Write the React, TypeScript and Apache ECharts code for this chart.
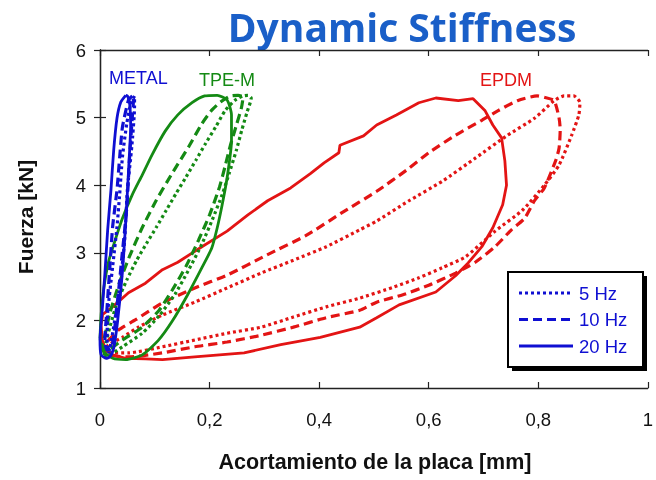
import React, { useEffect, useRef } from 'react';
import * as echarts from 'echarts';

// ---------- data (x = Acortamiento [mm], y = Fuerza [kN]) ----------
const MATERIALS = ['METAL', 'TPE-M', 'EPDM'];
const FREQUENCIES = ['5 Hz', '10 Hz', '20 Hz'];
const X_TICK_LABELS = ['0', '0,2', '0,4', '0,6', '0,8', '1'];
const Y_TICK_LABELS = ['1', '2', '3', '4', '5', '6'];

const EPDM_20HZ: [number, number][] = [
  [0.002, 1.93], [0.004, 1.71], [0.011, 1.56], [0.023, 1.49], [0.047, 1.44], [0.083, 1.43],
  [0.114, 1.42], [0.173, 1.46], [0.263, 1.52], [0.33, 1.64], [0.402, 1.75], [0.474, 1.9],
  [0.505, 2.04], [0.546, 2.23], [0.613, 2.42], [0.649, 2.66], [0.672, 2.85], [0.697, 3.09],
  [0.717, 3.37], [0.735, 3.71], [0.742, 4.0], [0.739, 4.36], [0.733, 4.7], [0.717, 4.89],
  [0.703, 5.1], [0.681, 5.28], [0.654, 5.25], [0.613, 5.29], [0.582, 5.22], [0.541, 5.04],
  [0.505, 4.89], [0.481, 4.73], [0.438, 4.59], [0.436, 4.48], [0.409, 4.33], [0.384, 4.17],
  [0.348, 3.96], [0.306, 3.77], [0.27, 3.56], [0.232, 3.32], [0.186, 3.09], [0.142, 2.86],
  [0.114, 2.75], [0.083, 2.55], [0.052, 2.41], [0.023, 2.2], [0.005, 2.09], [0.002, 1.93],
];
const EPDM_10HZ: [number, number][] = [
  [0.005, 1.64], [0.018, 1.49], [0.052, 1.46], [0.114, 1.52], [0.173, 1.61], [0.232, 1.68],
  [0.294, 1.78], [0.353, 1.9], [0.413, 2.04], [0.474, 2.15], [0.505, 2.27], [0.553, 2.38],
  [0.6, 2.52], [0.649, 2.7], [0.685, 2.86], [0.721, 3.09], [0.751, 3.34], [0.775, 3.51],
  [0.793, 3.77], [0.811, 3.96], [0.832, 4.37], [0.838, 4.55], [0.84, 4.82], [0.838, 4.99],
  [0.829, 5.25], [0.811, 5.3], [0.798, 5.32], [0.762, 5.25], [0.726, 5.1], [0.697, 4.96],
  [0.649, 4.74], [0.6, 4.48], [0.559, 4.22], [0.505, 3.91], [0.441, 3.59], [0.377, 3.26],
  [0.305, 2.97], [0.232, 2.67], [0.173, 2.48], [0.114, 2.26], [0.065, 2.01], [0.034, 1.86],
  [0.016, 1.71], [0.005, 1.64],
];
const EPDM_5HZ: [number, number][] = [
  [0.007, 1.56], [0.016, 1.52], [0.052, 1.52], [0.114, 1.61], [0.173, 1.71], [0.232, 1.81],
  [0.294, 1.9], [0.353, 2.05], [0.413, 2.2], [0.474, 2.33], [0.535, 2.49], [0.582, 2.63],
  [0.625, 2.78], [0.667, 2.94], [0.703, 3.19], [0.721, 3.32], [0.771, 3.63], [0.811, 4.0],
  [0.838, 4.3], [0.861, 4.74], [0.874, 5.04], [0.876, 5.22], [0.865, 5.32], [0.847, 5.32],
  [0.829, 5.25], [0.793, 4.99], [0.744, 4.74], [0.685, 4.4], [0.625, 4.06], [0.564, 3.77],
  [0.505, 3.47], [0.474, 3.34], [0.413, 3.09], [0.353, 2.89], [0.294, 2.7], [0.232, 2.48],
  [0.173, 2.27], [0.114, 2.08], [0.07, 1.9], [0.041, 1.75], [0.016, 1.64], [0.007, 1.56],
];
const TPE_20HZ: [number, number][] = [
  [0.0, 1.74], [0.005, 1.55], [0.023, 1.44], [0.047, 1.42], [0.077, 1.49], [0.106, 1.7],
  [0.132, 1.99], [0.16, 2.38], [0.186, 2.78], [0.204, 3.07], [0.214, 3.37], [0.223, 3.71],
  [0.232, 4.11], [0.24, 4.65], [0.24, 5.04], [0.232, 5.26], [0.214, 5.33], [0.191, 5.32],
  [0.168, 5.22], [0.142, 5.04], [0.119, 4.8], [0.095, 4.45], [0.077, 4.15], [0.059, 3.86],
  [0.041, 3.51], [0.029, 3.22], [0.016, 2.88], [0.007, 2.48], [0.002, 2.08], [0.0, 1.74],
];
const TPE_10HZ: [number, number][] = [
  [0.004, 1.64], [0.005, 1.56], [0.018, 1.58], [0.041, 1.71], [0.077, 1.9], [0.108, 2.15],
  [0.132, 2.45], [0.157, 2.8], [0.18, 3.19], [0.2, 3.56], [0.218, 3.97], [0.229, 4.3],
  [0.238, 4.59], [0.249, 4.89], [0.258, 5.14], [0.261, 5.3], [0.252, 5.33], [0.238, 5.32],
  [0.22, 5.23], [0.204, 5.11], [0.186, 4.91], [0.162, 4.57], [0.132, 4.18], [0.103, 3.78],
  [0.077, 3.37], [0.054, 2.95], [0.036, 2.57], [0.018, 2.11], [0.009, 1.78], [0.004, 1.64],
];
const TPE_5HZ: [number, number][] = [
  [0.007, 1.46], [0.018, 1.49], [0.041, 1.61], [0.077, 1.81], [0.108, 2.07], [0.137, 2.39],
  [0.162, 2.75], [0.186, 3.13], [0.205, 3.49], [0.223, 3.86], [0.236, 4.18], [0.249, 4.52],
  [0.259, 4.82], [0.268, 5.07], [0.276, 5.29], [0.27, 5.33], [0.261, 5.32], [0.247, 5.26],
  [0.229, 5.11], [0.211, 4.86], [0.193, 4.62], [0.175, 4.37], [0.157, 4.12], [0.139, 3.88],
  [0.121, 3.63], [0.103, 3.38], [0.085, 3.14], [0.067, 2.89], [0.049, 2.6], [0.031, 2.26],
  [0.018, 1.9], [0.009, 1.61], [0.007, 1.46],
];
const METAL_20HZ: [number, number][] = [
  [0.047, 5.33], [0.038, 5.23], [0.031, 4.99], [0.025, 4.52], [0.02, 3.93], [0.014, 3.34],
  [0.009, 2.7], [0.004, 2.15], [0.0, 1.71], [0.002, 1.49], [0.011, 1.44], [0.018, 1.46],
  [0.025, 1.59], [0.032, 1.98], [0.041, 2.72], [0.047, 3.46], [0.052, 4.2], [0.056, 4.89],
  [0.054, 5.22], [0.05, 5.32], [0.047, 5.33],
];
const METAL_10HZ: [number, number][] = [
  [0.059, 5.32], [0.052, 5.26], [0.041, 4.86], [0.036, 4.42], [0.031, 3.93], [0.023, 3.38],
  [0.018, 2.79], [0.013, 2.2], [0.009, 1.71], [0.013, 1.56], [0.022, 1.61], [0.031, 2.2],
  [0.04, 2.94], [0.049, 3.68], [0.054, 4.42], [0.059, 5.01], [0.061, 5.26], [0.059, 5.32],
];
const METAL_5HZ: [number, number][] = [
  [0.063, 5.32], [0.056, 5.2], [0.049, 4.92], [0.041, 4.42], [0.036, 3.88], [0.031, 3.38],
  [0.023, 2.79], [0.014, 2.11], [0.013, 1.71], [0.016, 1.53], [0.023, 1.81], [0.036, 2.49],
  [0.045, 3.19], [0.05, 3.93], [0.058, 4.57], [0.063, 5.16], [0.063, 5.32],
];

// ---------- styles ----------
const BLUE = '#0f0fd2';
const GREEN = '#148a14';
const RED = '#e31414';
const TITLE_BLUE = '#1a5fc8';
const DOT = [3, 3];
const DASH = [9, 5];
const SANS = "'Liberation Sans', Arial, sans-serif";

const LOOPS = [
  { name: 'EPDM 5 Hz', data: EPDM_5HZ, color: RED, dash: DOT, smooth: 0.2 },
  { name: 'EPDM 10 Hz', data: EPDM_10HZ, color: RED, dash: DASH, smooth: 0.2 },
  { name: 'EPDM 20 Hz', data: EPDM_20HZ, color: RED, dash: 'solid', smooth: 0 },
  { name: 'TPE-M 5 Hz', data: TPE_5HZ, color: GREEN, dash: DOT, smooth: 0.2 },
  { name: 'TPE-M 10 Hz', data: TPE_10HZ, color: GREEN, dash: DASH, smooth: 0.2 },
  { name: 'TPE-M 20 Hz', data: TPE_20HZ, color: GREEN, dash: 'solid', smooth: 0.2 },
  { name: 'METAL 5 Hz', data: METAL_5HZ, color: BLUE, dash: DOT, smooth: 0.2 },
  { name: 'METAL 10 Hz', data: METAL_10HZ, color: BLUE, dash: DASH, smooth: 0.2 },
  { name: 'METAL 20 Hz', data: METAL_20HZ, color: BLUE, dash: 'solid', smooth: 0.2 },
];

const LEGEND_DASHES: any[] = [DOT, DASH, null];

export default function App() {
  const ref = useRef<HTMLDivElement>(null);

  useEffect(() => {
    const chart = echarts.init(ref.current!, null, { renderer: 'svg' });
    const axisLine = { lineStyle: { color: '#222', width: 1.3 } };
    const tick = { inside: true, length: 6, lineStyle: { color: '#222', width: 1.2 } };

    const legendGraphics: any[] = [
      { type: 'rect', shape: { x: 512, y: 276, width: 135, height: 95 }, style: { fill: '#000' } },
      { type: 'rect', shape: { x: 508, y: 272, width: 135, height: 95 }, style: { fill: '#fff', stroke: '#000', lineWidth: 2 } },
    ];
    FREQUENCIES.forEach((f, i) => {
      const y = 293 + i * 26.5;
      legendGraphics.push({
        type: 'line',
        shape: { x1: 519, y1: y, x2: 573, y2: y },
        style: { stroke: BLUE, lineWidth: 3, lineDash: LEGEND_DASHES[i] || undefined },
      });
      legendGraphics.push({
        type: 'text',
        x: 579, y,
        style: { text: f, fill: BLUE, font: `18.5px ${SANS}`, textVerticalAlign: 'middle', textAlign: 'left' },
      });
    });

    const matPos = [
      { x: 109, y: 78, color: BLUE },
      { x: 199, y: 80, color: GREEN },
      { x: 480, y: 80, color: RED },
    ];

    chart.setOption({
      animation: false,
      grid: { left: 100, right: 1, top: 50, bottom: 92 },
      xAxis: [
        {
          type: 'value', min: 0, max: 1, interval: 0.2,
          axisLine, axisTick: tick, splitLine: { show: false },
          axisLabel: {
            margin: 22, color: '#111', fontSize: 18.5, fontFamily: SANS,
            formatter: (v: number) => X_TICK_LABELS[Math.round(v / 0.2)] ?? '',
          },
        },
        {
          type: 'value', position: 'top', min: 0, max: 1, interval: 0.2,
          axisLine, axisTick: tick, axisLabel: { show: false }, splitLine: { show: false },
        },
      ],
      yAxis: [
        {
          type: 'value', min: 1, max: 6, interval: 1,
          axisLine: { show: true, ...axisLine }, axisTick: { show: true, ...tick }, splitLine: { show: false },
          axisLabel: {
            margin: 14, color: '#111', fontSize: 18.5, fontFamily: SANS,
            formatter: (v: number) => Y_TICK_LABELS[Math.round(v - 1)] ?? '',
          },
        },
        {
          type: 'value', position: 'right', min: 1, max: 6, interval: 1,
          axisLine: { show: true, ...axisLine }, axisTick: { show: true, ...tick },
          axisLabel: { show: false }, splitLine: { show: false },
        },
      ],
      series: LOOPS.map((l) => ({
        name: l.name,
        type: 'line',
        data: l.data,
        showSymbol: false,
        symbol: 'none',
        smooth: l.smooth,
        lineStyle: { color: l.color, width: l.dash === 'solid' ? 2.8 : 3.2, type: l.dash, cap: 'butt' },
        z: 3,
      })),
      graphic: [
        {
          type: 'text', x: 402, y: 26.5,
          style: { text: 'Dynamic Stiffness', fill: TITLE_BLUE, font: "bold 39px 'Open Sans', 'Noto Sans', sans-serif", textAlign: 'center', textVerticalAlign: 'middle' },
        },
        ...MATERIALS.map((m, i) => ({
          type: 'text', x: matPos[i].x, y: matPos[i].y,
          style: { text: m, fill: matPos[i].color, font: `18px ${SANS}`, textAlign: 'left', textVerticalAlign: 'middle' },
        })),
        {
          type: 'text', x: 375, y: 462,
          style: { text: 'Acortamiento de la placa [mm]', fill: '#111', font: `bold 21.5px ${SANS}`, textAlign: 'center', textVerticalAlign: 'middle' },
        },
        {
          type: 'text', x: 25, y: 217, rotation: Math.PI / 2,
          style: { text: 'Fuerza [kN]', fill: '#111', font: `bold 21px ${SANS}`, textAlign: 'center', textVerticalAlign: 'middle' },
        },
        ...legendGraphics,
      ],
    });
    return () => chart.dispose();
  }, []);

  return <div ref={ref} style={{ position: 'fixed', left: 0, top: 0, width: 656, height: 480 }} />;
}
